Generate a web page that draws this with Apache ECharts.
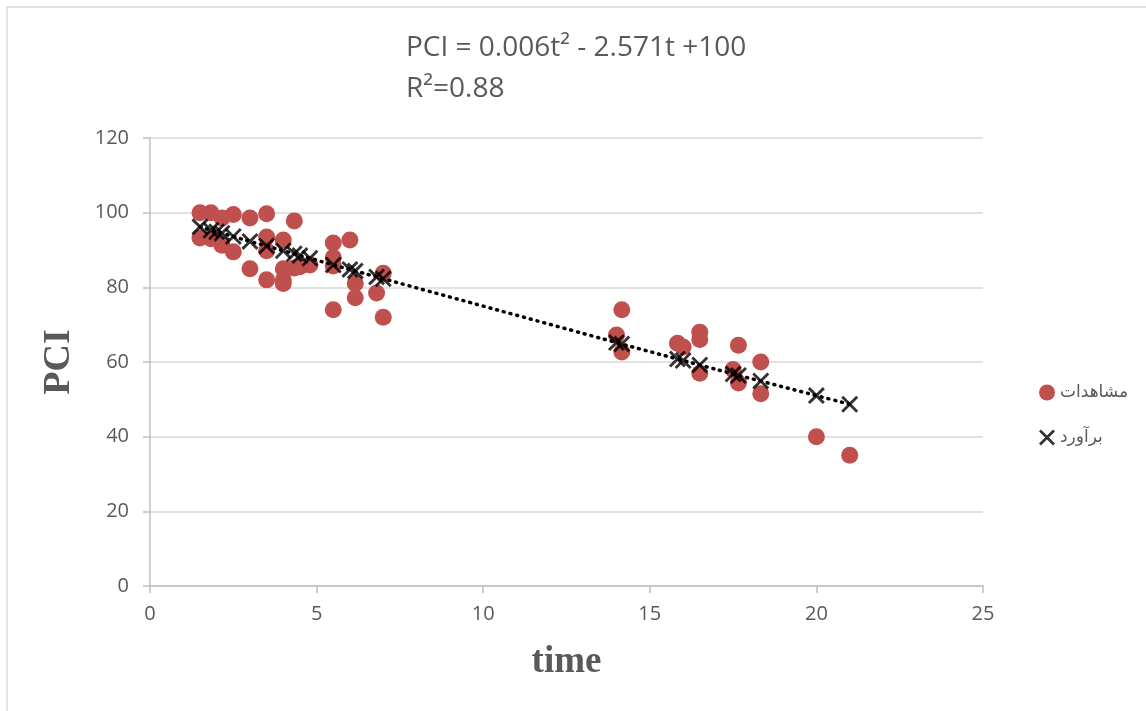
<!DOCTYPE html>
<html>
<head>
<meta charset="utf-8">
<script src="https://cdn.jsdelivr.net/npm/echarts@6/dist/echarts.min.js"></script>
<style>
  html, body { margin: 0; padding: 0; background: #fff; }
  #chart { width: 1146px; height: 711px; }
</style>
</head>
<body>
<div id="chart"></div>
<script>
// Observed PCI against time (pairs of [t, PCI])
const observedTime = [1.5, 1.5, 1.83, 1.83, 2.16, 2.16, 2.5, 2.5, 3, 3, 3.5, 3.5, 3.5, 3.5,
  4, 4, 4, 4, 4.33, 4.33, 4.5, 4.8, 5.5, 5.5, 5.5, 5.5, 6, 6.16, 6.16, 6.8, 7, 7,
  14, 14.16, 14.16, 15.83, 16, 16.5, 16.5, 16.5, 17.5, 17.66, 17.66, 18.33, 18.33, 20, 21];
const observedPCI = [100, 93.2, 100, 93, 98.6, 91.3, 99.5, 89.5, 98.6, 85, 99.7, 93.5, 89.8, 82,
  92.7, 85, 82, 81, 97.8, 85.2, 85.5, 86, 91.9, 88, 85.7, 74, 92.7, 81, 77.2, 78.5, 83.8, 72,
  67.2, 74, 62.7, 65, 64, 68, 66, 57, 58, 64.5, 54.4, 60, 51.5, 40, 35];

// Estimated PCI at each observation time
const estimatedTime = [1.5, 1.83, 2, 2.16, 2.5, 3, 3.5, 4, 4.33, 4.5, 4.8, 5.5, 6, 6.16, 6.8, 7,
  14, 14.16, 15.83, 16, 16.5, 17.5, 17.66, 18.33, 20, 21];
const estimatedPCI = [96.2, 95.3, 94.9, 94.5, 93.6, 92.3, 91.1, 89.8, 89.0, 88.5, 87.8, 86.0, 84.8, 84.4, 82.8, 82.3,
  65.2, 64.8, 60.8, 60.4, 59.2, 56.8, 56.4, 54.9, 51.0, 48.7];

const xTicks = { min: 0, max: 25, interval: 5 };
const yTicks = { min: 0, max: 120, interval: 20 };

const observedName = 'مشاهدات';
const estimatedName = 'برآورد';
const equationText = 'PCI = 0.006t² - 2.571t +100';
const r2Text = 'R²=0.88';

const zip = (a, b) => a.map((v, i) => [v, b[i]]);
const crossPath = 'path://M0,1.2 L1.2,0 L5,3.8 L8.8,0 L10,1.2 L6.2,5 L10,8.8 L8.8,10 L5,6.2 L1.2,10 L0,8.8 L3.8,5 Z';

const chart = echarts.init(document.getElementById('chart'));
chart.setOption({
  animation: false,
  backgroundColor: '#ffffff',
  grid: { left: 150, right: 163, top: 138, bottom: 125 },
  graphic: [
    { type: 'rect', silent: true, shape: { x: 7, y: 7, width: 1300, height: 900 },
      style: { fill: 'none', stroke: '#d9d9d9', lineWidth: 1.5 } },
    { type: 'text', left: 406, top: 34,
      style: { text: equationText, font: '28px "Open Sans"', fill: '#595959' } },
    { type: 'text', left: 406, top: 75,
      style: { text: r2Text, font: '28px "Open Sans"', fill: '#595959' } }
  ],
  legend: {
    orient: 'vertical', left: 1034, top: 379, align: 'left',
    itemWidth: 16, itemHeight: 16, itemGap: 28,
    textStyle: { fontFamily: 'DejaVu Sans', fontSize: 17, color: '#595959' },
    data: [
      { name: observedName, icon: 'circle' },
      { name: estimatedName, icon: crossPath }
    ]
  },
  xAxis: {
    type: 'value', min: xTicks.min, max: xTicks.max, interval: xTicks.interval,
    name: 'time', nameLocation: 'middle', nameGap: 58,
    nameTextStyle: { fontFamily: 'Liberation Serif', fontWeight: 'bold', fontSize: 37, color: '#595959' },
    axisLine: { show: true, onZero: false, lineStyle: { color: '#bfbfbf', width: 1.5 } },
    axisTick: { show: true, length: 7, lineStyle: { color: '#bfbfbf', width: 1.5 } },
    axisLabel: { fontFamily: 'Open Sans', fontSize: 20, color: '#595959', margin: 18 },
    splitLine: { show: false }
  },
  yAxis: {
    type: 'value', min: yTicks.min, max: yTicks.max, interval: yTicks.interval,
    name: 'PCI', nameLocation: 'middle', nameGap: 72,
    nameTextStyle: { fontFamily: 'Liberation Serif', fontWeight: 'bold', fontSize: 38, color: '#595959' },
    axisLine: { show: true, lineStyle: { color: '#bfbfbf', width: 1.5 } },
    axisTick: { show: true, length: 7, lineStyle: { color: '#bfbfbf', width: 1.5 } },
    axisLabel: { fontFamily: 'Open Sans', fontSize: 20, color: '#595959', margin: 21 },
    splitLine: { show: true, lineStyle: { color: '#d9d9d9', width: 1.5 } }
  },
  series: [
    {
      name: observedName, type: 'scatter', symbol: 'circle', symbolSize: 17,
      itemStyle: { color: '#c0504d', opacity: 1 },
      data: zip(observedTime, observedPCI), z: 2
    },
    {
      name: 'trend', type: 'line', showSymbol: false, symbol: 'none', smooth: true,
      lineStyle: { color: '#000', width: 3.5, type: [1, 6], cap: 'round' },
      data: zip(estimatedTime, estimatedPCI), z: 3, silent: true
    },
    {
      name: estimatedName, type: 'scatter', symbol: crossPath, symbolSize: 17,
      itemStyle: { color: '#000' },
      data: zip(estimatedTime, estimatedPCI), z: 4
    }
  ]
});
</script>
</body>
</html>
